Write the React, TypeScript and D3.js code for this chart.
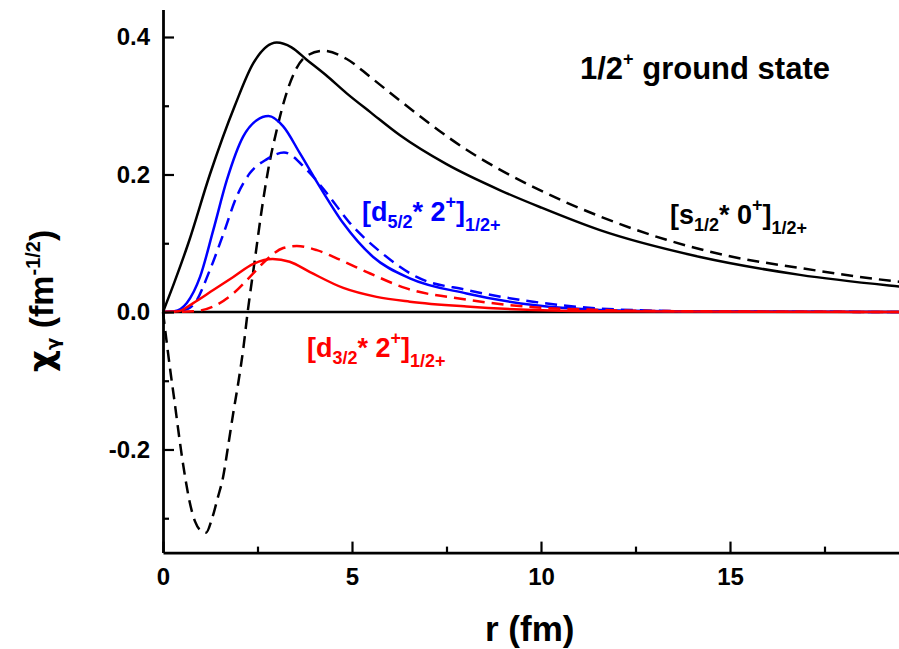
import React, { useEffect, useRef } from 'react';
import * as d3 from 'd3';

const W = 899;
const H = 649;
const FONT = "'Liberation Sans', Arial, Helvetica, sans-serif";
const GREEK = "'DejaVu Sans', 'Liberation Sans', sans-serif";

// [s1/2 * 0+] solid (black)
const sSolidR = [0, 0.3, 0.67, 1.24, 1.9, 2.39, 3.01, 3.4, 3.8, 4.3, 4.86, 5.5, 6.27, 7.5, 8.92, 10, 11.56, 14.21, 16.85, 19.47, 20];
const sSolidV = [0, 0.043, 0.1, 0.2, 0.3, 0.362, 0.392, 0.385, 0.367, 0.345, 0.318, 0.29, 0.257, 0.215, 0.177, 0.152, 0.119, 0.08, 0.054, 0.037, 0.034];

// [s1/2 * 0+] dashed (black)
const sDashR = [0, 0.1, 0.2, 0.3, 0.4, 0.5, 0.6, 0.7, 0.85, 1.0, 1.14, 1.3, 1.45, 1.59, 1.72, 1.85, 2.0, 2.12, 2.24, 2.43, 2.61, 2.79, 3.01, 3.2, 3.49, 3.76, 4.24, 4.86, 5.48, 6.23, 8.03, 9.79, 11.56, 13.32, 15.09, 16.85, 19.47, 20];
const sDashV = [0, -0.045, -0.088, -0.128, -0.17, -0.21, -0.245, -0.275, -0.305, -0.318, -0.321, -0.3, -0.27, -0.24, -0.196, -0.15, -0.1, -0.055, 0, 0.076, 0.148, 0.209, 0.265, 0.306, 0.35, 0.371, 0.38, 0.368, 0.342, 0.309, 0.236, 0.182, 0.139, 0.105, 0.08, 0.064, 0.044, 0.041];

// [d5/2 * 2+] solid (blue)
const d52SolidR = [0, 0.3, 0.63, 0.98, 1.33, 1.69, 2.12, 2.48, 2.79, 3.18, 3.62, 4.15, 4.77, 5.56, 6.53, 8.03, 9.8, 11.56, 14, 20];
const d52SolidV = [0, 0.001, 0.013, 0.051, 0.119, 0.192, 0.255, 0.279, 0.285, 0.27, 0.231, 0.182, 0.129, 0.08, 0.049, 0.027, 0.01, 0.003, 0.001, 0];

// [d5/2 * 2+] dashed (blue)
const d52DashR = [0, 0.5, 0.8, 1.24, 1.6, 1.95, 2.3, 2.74, 3.2, 3.8, 4.33, 4.95, 5.74, 6.71, 8.03, 9.79, 11.56, 14, 20];
const d52DashV = [0, 0.002, 0.01, 0.061, 0.114, 0.168, 0.202, 0.222, 0.232, 0.207, 0.173, 0.129, 0.088, 0.051, 0.032, 0.015, 0.005, 0.001, 0];

// [d3/2 * 2+] solid (red)
const d32SolidR = [0, 0.4, 0.8, 1.33, 1.86, 2.39, 2.9, 3.35, 3.89, 4.77, 5.65, 6.53, 8.03, 9.8, 12, 20];
const d32SolidV = [0, 0.001, 0.013, 0.032, 0.051, 0.07, 0.077, 0.073, 0.058, 0.035, 0.022, 0.015, 0.008, 0.003, 0.001, 0];

// [d3/2 * 2+] dashed (red)
const d32DashR = [0, 0.8, 1.33, 1.86, 2.3, 2.74, 3.18, 3.54, 4.07, 4.68, 5.48, 6.4, 8.03, 9.8, 11.56, 14, 20];
const d32DashV = [0, 0.001, 0.008, 0.027, 0.051, 0.076, 0.093, 0.096, 0.09, 0.076, 0.056, 0.035, 0.018, 0.007, 0.003, 0.001, 0];

const xMajorTicks = [0, 5, 10, 15];
const xMinorTicks = [2.5, 7.5, 12.5, 17.5];
const yMajorTicks = [-0.2, 0, 0.2, 0.4];
const yMinorTicks = [-0.3, -0.1, 0.1, 0.3];

const seriesList = [
  { r: sSolidR, v: sSolidV, color: '#000000', dash: null as string | null },
  { r: sDashR, v: sDashV, color: '#000000', dash: '12,7' },
  { r: d52SolidR, v: d52SolidV, color: '#0000ff', dash: null },
  { r: d52DashR, v: d52DashV, color: '#0000ff', dash: '12,7' },
  { r: d32SolidR, v: d32SolidV, color: '#ff0000', dash: null },
  { r: d32DashR, v: d32DashV, color: '#ff0000', dash: '12,7' },
];

export default function App() {
  const gRef = useRef<SVGGElement>(null);

  useEffect(() => {
    const g = d3.select(gRef.current);
    g.selectAll('*').remove();
    const x = d3.scaleLinear().domain([0, 20]).range([163, 919]);
    const y = d3.scaleLinear().domain([-0.35, 0.44]).range([552.6, 9.5]);

    // zero line
    g.append('line')
      .attr('x1', x(0)).attr('x2', W)
      .attr('y1', y(0)).attr('y2', y(0))
      .attr('stroke', '#000').attr('stroke-width', 2.6);

    const line = d3.line<[number, number]>()
      .x((d) => x(d[0]))
      .y((d) => y(d[1]))
      .curve(d3.curveMonotoneX);

    seriesList.forEach((s) => {
      const pts = s.r.map((r, i) => [r, s.v[i]] as [number, number]);
      const p = g.append('path')
        .attr('d', line(pts))
        .attr('fill', 'none')
        .attr('stroke', s.color)
        .attr('stroke-width', 2.5)
        .attr('stroke-linejoin', 'round');
      if (s.dash) p.attr('stroke-dasharray', s.dash);
    });

    const styleAxis = (sel: any) => {
      sel.attr('font-family', FONT).attr('font-size', 24).attr('font-weight', 'bold');
      sel.select('.domain').attr('stroke', '#000').attr('stroke-width', 2.8);
      sel.selectAll('.tick line').attr('stroke', '#000').attr('stroke-width', 2.2);
      sel.selectAll('.tick text').attr('fill', '#000');
    };

    // x axis minor
    g.append('g')
      .attr('transform', `translate(0,${y(-0.35)})`)
      .call(d3.axisBottom(x).tickValues(xMinorTicks).tickSize(-6).tickSizeOuter(0).tickFormat(() => ''))
      .call((sel: any) => { sel.select('.domain').remove(); sel.selectAll('.tick line').attr('stroke', '#000').attr('stroke-width', 2.2); });
    // y axis minor
    g.append('g')
      .attr('transform', `translate(${x(0)},0)`)
      .call(d3.axisLeft(y).tickValues(yMinorTicks).tickSize(-6).tickSizeOuter(0).tickFormat(() => ''))
      .call((sel: any) => { sel.select('.domain').remove(); sel.selectAll('.tick line').attr('stroke', '#000').attr('stroke-width', 2.2); });

    // x axis major
    g.append('g')
      .attr('transform', `translate(0,${y(-0.35)})`)
      .call(d3.axisBottom(x).tickValues(xMajorTicks).tickSize(-11).tickSizeOuter(0).tickPadding(15).tickFormat((d: any) => String(d)))
      .call(styleAxis);
    // y axis major
    g.append('g')
      .attr('transform', `translate(${x(0)},0)`)
      .call(d3.axisLeft(y).tickValues(yMajorTicks).tickSize(-11).tickSizeOuter(0).tickPadding(13).tickFormat((d: any) => (+d).toFixed(1)))
      .call(styleAxis);
  }, []);

  return (
    <svg width={W} height={H} style={{ position: 'absolute', left: 0, top: 0, background: '#fff' }}>
      <rect x={0} y={0} width={W} height={H} fill="#fff" />
      <g ref={gRef} />
      <g fontFamily={FONT} fontWeight="bold">
        <text x={580} y={79} fontSize={31} fill="#000">
          1/2<tspan fontSize={18} dy={-14}>+</tspan><tspan dy={14}>{' ground state'}</tspan>
        </text>
        <text x={362} y={221} fontSize={27} fill="#0000ff">
          [d<tspan fontSize={18} dy={7}>5/2</tspan><tspan dy={-7}>{'* 2'}</tspan><tspan fontSize={18} dy={-13}>+</tspan><tspan dy={13}>]</tspan><tspan fontSize={18} dy={10}>1/2+</tspan>
        </text>
        <text x={307} y={357} fontSize={27} fill="#ff0000">
          [d<tspan fontSize={18} dy={7}>3/2</tspan><tspan dy={-7}>{'* 2'}</tspan><tspan fontSize={18} dy={-13}>+</tspan><tspan dy={13}>]</tspan><tspan fontSize={18} dy={10}>1/2+</tspan>
        </text>
        <text x={670} y={224} fontSize={27} fill="#000">
          [s<tspan fontSize={18} dy={7}>1/2</tspan><tspan dy={-7}>{'* 0'}</tspan><tspan fontSize={18} dy={-13}>+</tspan><tspan dy={13}>]</tspan><tspan fontSize={18} dy={10}>1/2+</tspan>
        </text>
        <text x={485} y={641} fontSize={35} fill="#000">r (fm)</text>
        <text transform="translate(53,372) rotate(-90)" fontSize={34} fill="#000">
          <tspan fontFamily={GREEK} fontWeight="bold">χ</tspan><tspan fontFamily={GREEK} fontWeight="bold" fontSize={18} dy={6}>γ</tspan><tspan dy={-6}>{' (fm'}</tspan><tspan fontSize={20} dy={-13}>-1/2</tspan><tspan dy={13}>)</tspan>
        </text>
      </g>
    </svg>
  );
}
